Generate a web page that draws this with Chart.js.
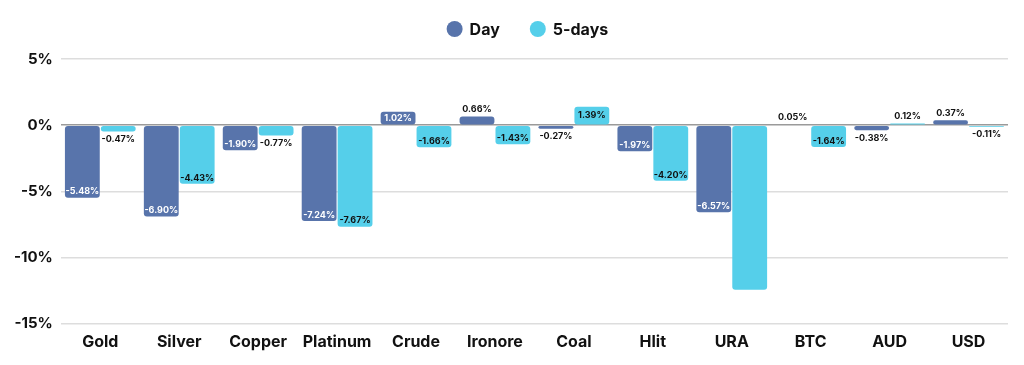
<!DOCTYPE html>
<html>
<head>
<meta charset="utf-8">
<script src="https://cdn.jsdelivr.net/npm/chart.js@4"></script>
<style>
  html, body { margin: 0; padding: 0; background: #fff; overflow: hidden; }
</style>
</head>
<body>
<canvas id="perfChart" width="1024" height="365"></canvas>
<script>
// Commodities / assets performance
const categories = ['Gold', 'Silver', 'Copper', 'Platinum', 'Crude', 'Ironore', 'Coal', 'Hlit', 'URA', 'BTC', 'AUD', 'USD'];
const dayValues = [-5.48, -6.90, -1.90, -7.24, 1.02, 0.66, -0.27, -1.97, -6.57, 0.05, -0.38, 0.37];
const fiveDayValues = [-0.47, -4.43, -0.77, -7.67, -1.66, -1.43, 1.39, -4.20, -12.42, -1.64, 0.12, -0.11];
const yTicks = [5, 0, -5, -10, -15];

const FONT = 'Inter, "Noto Sans", sans-serif';
const DAY_COLOR = '#5874ab';
const FIVE_COLOR = '#55cfea';

// draws the % labels at the end of each bar
const barLabels = {
  id: 'barLabels',
  afterDatasetsDraw(chart) {
    const ctx = chart.ctx;
    ctx.save();
    ctx.font = 'bold 9px ' + FONT;
    ctx.textAlign = 'center';
    ctx.textBaseline = 'middle';
    chart.data.datasets.forEach((ds, di) => {
      const meta = chart.getDatasetMeta(di);
      meta.data.forEach((bar, i) => {
        const v = ds.data[i];
        if (v < -10) return; // not labelled in the original
        const txt = v.toFixed(2) + '%';
        const inside = Math.abs(v) >= 1;
        let y;
        if (inside) {
          y = v < 0 ? bar.y - 6 : (bar.y + bar.base) / 2;
          ctx.fillStyle = di === 0 ? '#ffffff' : '#111111';
        } else {
          y = v < 0 ? bar.y + 8 : bar.y - 7;
          ctx.fillStyle = '#111111';
        }
        ctx.fillText(txt, bar.x, y);
      });
    });
    ctx.restore();
  }
};

// legend centred over the plot area (not the whole canvas)
const topLegend = {
  id: 'topLegend',
  afterDraw(chart) {
    const ctx = chart.ctx;
    const area = chart.chartArea;
    const r = 8, gap = 7, spacing = 30, y = 29;
    ctx.save();
    ctx.font = 'bold 16px ' + FONT;
    ctx.textBaseline = 'middle';
    const items = chart.data.datasets.map(ds => ({
      text: ds.label, color: ds.backgroundColor, w: ctx.measureText(ds.label).width
    }));
    const total = items.reduce((s, it) => s + 2 * r + gap + it.w, 0) + spacing * (items.length - 1);
    let x = (area.left + area.right) / 2 - total / 2 - 7;
    items.forEach(it => {
      ctx.fillStyle = it.color;
      ctx.beginPath();
      ctx.arc(x + r, y, r, 0, Math.PI * 2);
      ctx.fill();
      ctx.fillStyle = '#111';
      ctx.fillText(it.text, x + 2 * r + gap, y + 1);
      x += 2 * r + gap + it.w + spacing;
    });
    ctx.restore();
  }
};

const ctx = document.getElementById('perfChart');
new Chart(ctx, {
  type: 'bar',
  data: {
    labels: categories,
    datasets: [
      {
        label: 'Day',
        data: dayValues,
        backgroundColor: DAY_COLOR,
        borderRadius: 3,
        borderSkipped: false,
        barPercentage: 0.97,
        categoryPercentage: 0.91,
      },
      {
        label: '5-days',
        data: fiveDayValues,
        backgroundColor: FIVE_COLOR,
        borderRadius: 3,
        borderSkipped: false,
        barPercentage: 0.97,
        categoryPercentage: 0.91,
      }
    ]
  },
  options: {
    responsive: false,
    animation: false,
    layout: { padding: { top: 59, right: 16, bottom: 12, left: 6 } },
    plugins: {
      legend: { display: false },
      tooltip: { enabled: false }
    },
    scales: {
      x: {
        grid: { display: false },
        border: { display: false },
        ticks: {
          color: '#111',
          padding: 1,
          maxRotation: 0,
          font: { family: FONT, size: 16, weight: 'bold' }
        }
      },
      y: {
        min: -15,
        max: 5,
        border: { display: false },
        afterBuildTicks(axis) {
          axis.ticks = yTicks.map(v => ({ value: v }));
        },
        grid: {
          color: c => c.tick && c.tick.value === 0 ? '#9a9a9a' : '#dddddd',
          lineWidth: 1.5,
          drawTicks: false
        },
        ticks: {
          color: '#111',
          padding: 8,
          font: { family: FONT, size: 15, weight: 'bold' },
          callback: v => v + '%'
        }
      }
    }
  },
  plugins: [barLabels, topLegend]
});
</script>
</body>
</html>
